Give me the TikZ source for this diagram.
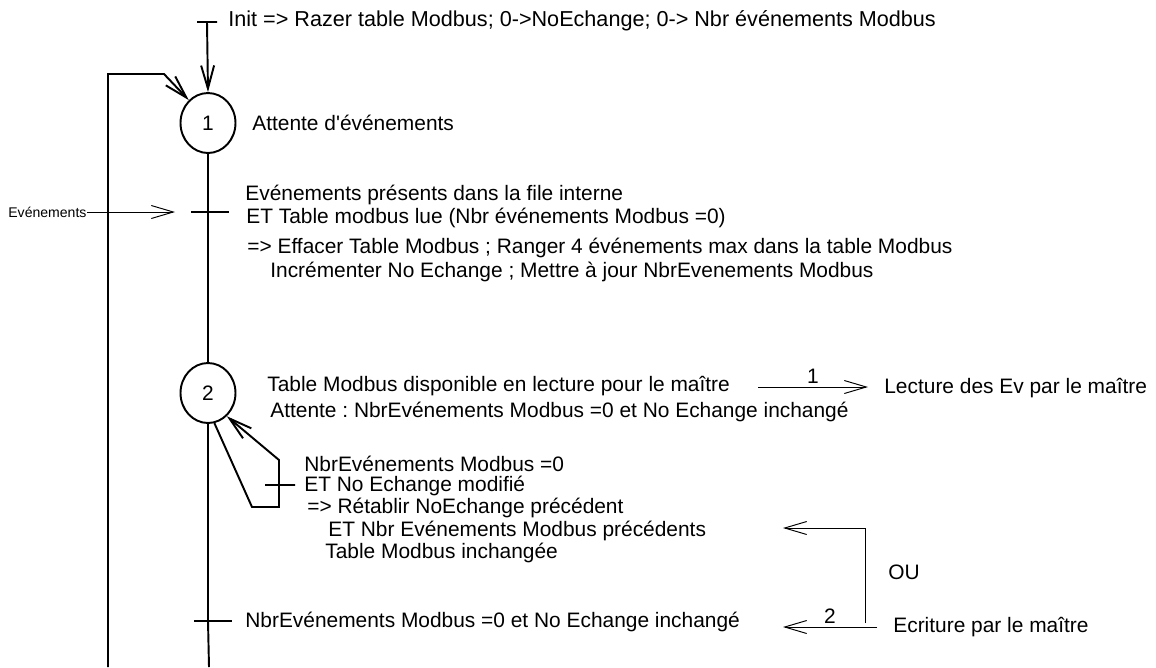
\documentclass[tikz,border=0pt]{standalone}
\usepackage{fontspec}
\setmainfont{Liberation Sans}[Ligatures=TeXOff]
\usetikzlibrary{arrows.meta,shapes.geometric,positioning}
\frenchspacing

\begin{document}
\begin{tikzpicture}
[
x=0.02cm,y=-0.02cm,
every node/.style={font=\fontsize{11.9}{14}\selectfont},
etape/.style={ellipse,draw,line width=1.1pt,minimum width=1.1cm,minimum height=1.2cm,inner sep=0pt},
trans/.style={draw,line width=1.6pt,minimum height=0pt,inner sep=0pt},
lien/.style={line width=1.1pt},
arr/.style={lien,-{Straight Barb[length=4.6mm,width=2.6mm,line width=1.1pt]}},
fleche/.style={line width=0.55pt,-{Straight Barb[length=4.4mm,width=2.6mm,line width=0.55pt]}},
lbl/.style={anchor=west,inner sep=0pt},
]
\useasboundingbox (0,0) rectangle (1156,667);

% Nodes
\node[etape] (e1) at (208,123) {1};
\node[etape] (e2) at (208,393) {2};
\node[trans,minimum width=0.4cm] (t0) at (207,22) {};
\node[trans,minimum width=0.76cm] (t1) at (210,212) {};
\node[trans,minimum width=0.6cm] (t2) at (280,485) {};
\node[trans,minimum width=0.76cm] (t3) at (213,621) {};
\coordinate (bas) at (209,667);
\coordinate (g1) at (108,667);
\coordinate (g2) at (108,74);
\coordinate (g3) at (164,74);
\coordinate (b1) at (252,507);
\coordinate (b2) at (279,507);
\coordinate (b3) at (279,460);
\coordinate (evfin) at (175,212);

% Texts
\node[lbl,font=\fontsize{12.3}{14}\selectfont] (init) at (228,21) {Init => Razer table Modbus; 0->NoEchange; 0-> Nbr événements Modbus};
\node[lbl] (att1) at (252,123) {Attente d'événements};
\node[lbl,font=\fontsize{8}{10}\selectfont] (evt) at (8,212) {Evénements};
\node[lbl] (r1a) at (245,195) {Evénements présents dans la file interne};
\node[lbl] (r1b) at (246,218) {ET Table modbus lue (Nbr événements Modbus =0)};
\node[lbl] (a1a) at (247,248) {=> Effacer Table Modbus ; Ranger 4 événements max dans la table Modbus};
\node[lbl] (a1b) at (270,272) {Incrémenter No Echange ; Mettre à jour NbrEvenements Modbus};
\node[lbl] (act2a) at (267,386) {Table Modbus disponible en lecture pour le maître};
\node[lbl] (act2b) at (270,412) {Attente : NbrEvénements Modbus =0 et No Echange inchangé};
\node[lbl] (lect) at (884,388) {Lecture des Ev par le maître};
\node[lbl] (r2a) at (304,464) {NbrEvénements Modbus =0};
\node[lbl] (r2b) at (304,486) {ET No Echange modifié};
\node[lbl] (a2a) at (307,508) {=> Rétablir NoEchange précédent};
\node[lbl] (a2b) at (328,531) {ET Nbr Evénements Modbus précédents};
\node[lbl] (a2c) at (325,553) {Table Modbus inchangée};
\node[lbl] (r3) at (245,622) {NbrEvénements Modbus =0 et No Echange inchangé};
\node[lbl] (ecr) at (893,627) {Ecriture par le maître};
\node[lbl] (ou) at (888,572) {OU};
\coordinate (l1) at (758,387);
\coordinate (l2) at (868,387);
\coordinate (w1) at (877,627);
\coordinate (w2) at (783,627);
\coordinate (w3) at (865,623);
\coordinate (w4) at (865,528);
\coordinate (w5) at (783,528);

% Edges
\draw[arr] (t0.center) -- (e1.north);
\draw[lien] (e1.south) -- (e1.south |- t1) -- (e2.north);
\draw[lien] (e2.south) -- (e2.south |- t3) -- (bas);
\draw[arr] (g1) -- (g2) -- (g3) -- (e1.130);
\draw[arr] (e2.-78) -- (b1) -- (b2) -- (b3) -- (e2.-51);
\draw[fleche] (evt.east) -- (evfin);
\draw[fleche] (l1) -- node[above=1pt,inner sep=1pt] {1} (l2);
\draw[fleche] (w1) -- node[above=1pt,inner sep=1pt] {2} (w2);
\draw[fleche] (w3) -- (w4) -- (w5);

\end{tikzpicture}
\end{document}
